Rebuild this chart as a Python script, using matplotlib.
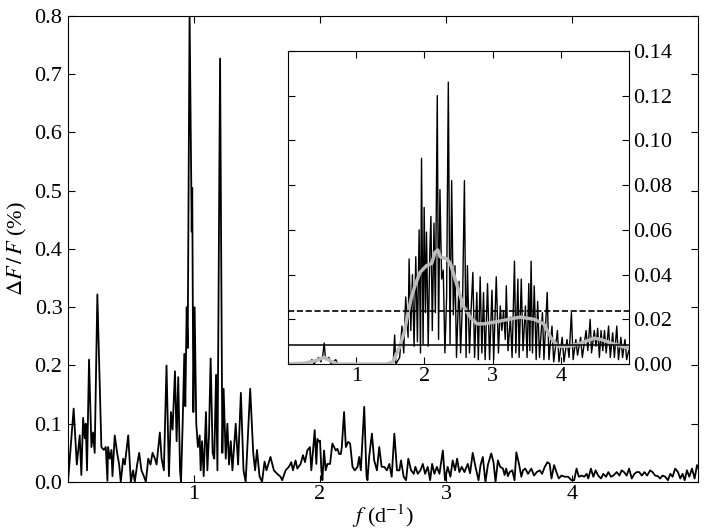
import numpy as np
import matplotlib
matplotlib.use("Agg")
import matplotlib.pyplot as plt

plt.rcParams['font.family'] = ['Liberation Serif', 'DejaVu Serif']
plt.rcParams['mathtext.fontset'] = 'stix'

# amplitude spectrum of the light curve (f in 1/d, amplitude in %)
main_f = [0.000, 0.045, 0.070, 0.093, 0.106, 0.120, 0.133, 0.141, 0.151, 0.167,
          0.186, 0.199, 0.212, 0.233, 0.265, 0.284, 0.300, 0.313, 0.318, 0.332,
          0.345, 0.353, 0.371, 0.390, 0.406, 0.419, 0.438, 0.451, 0.478, 0.499,
          0.517, 0.530, 0.549, 0.565, 0.583, 0.602, 0.618, 0.637, 0.655, 0.671,
          0.690, 0.703, 0.729, 0.743, 0.761, 0.782, 0.801, 0.817, 0.830, 0.849,
          0.862, 0.875, 0.889, 0.897, 0.910, 0.923, 0.931, 0.942, 0.950, 0.965,
          0.982, 0.986, 0.995, 1.005, 1.018, 1.031, 1.045, 1.053, 1.064, 1.077,
          1.095, 1.106, 1.119, 1.132, 1.148, 1.161, 1.175, 1.186, 1.207, 1.225,
          1.235, 1.252, 1.265, 1.278, 1.292, 1.305, 1.331, 1.350, 1.372, 1.393,
          1.410, 1.446, 1.470, 1.485, 1.500, 1.520, 1.540, 1.560, 1.575,
          1.607, 1.634, 1.660, 1.687, 1.700, 1.727, 1.753, 1.772, 1.785, 1.806,
          1.820, 1.846, 1.865, 1.881, 1.899, 1.920, 1.931, 1.944, 1.958, 1.971,
          1.979, 1.992, 2.000, 2.011, 2.019, 2.032, 2.045, 2.059, 2.080, 2.098,
          2.112, 2.125, 2.138, 2.152, 2.165, 2.173, 2.191, 2.205, 2.223, 2.239,
          2.258, 2.276, 2.298, 2.311, 2.324, 2.351, 2.369, 2.377, 2.390, 2.412,
          2.430, 2.452, 2.470, 2.489, 2.510, 2.531, 2.550, 2.569, 2.590, 2.611,
          2.630, 2.643, 2.664, 2.683, 2.701, 2.723, 2.744, 2.757, 2.776, 2.797,
          2.816, 2.834, 2.855, 2.874, 2.890, 2.908, 2.927, 2.948, 2.975, 2.992,
          3.013, 3.035, 3.053, 3.072, 3.088, 3.106, 3.125, 3.146, 3.173, 3.191,
          3.212, 3.234, 3.258, 3.274, 3.292, 3.313, 3.332, 3.359, 3.377, 3.393,
          3.412, 3.430, 3.452, 3.465, 3.478, 3.491, 3.505, 3.526, 3.544, 3.558,
          3.579, 3.598, 3.611, 3.629, 3.651, 3.677, 3.699, 3.720, 3.744, 3.762,
          3.784, 3.805, 3.823, 3.837, 3.858, 3.876, 3.895, 3.916, 3.943, 3.969,
          3.996, 4.017, 4.036, 4.054, 4.076, 4.097, 4.116, 4.129, 4.150, 4.169,
          4.187, 4.208, 4.230, 4.248, 4.270, 4.288, 4.309, 4.328, 4.355, 4.376,
          4.394, 4.413, 4.434, 4.453, 4.474, 4.495, 4.514, 4.533, 4.554, 4.575,
          4.596, 4.620, 4.639, 4.660, 4.681, 4.700, 4.718, 4.740, 4.761, 4.780,
          4.798, 4.819, 4.841, 4.859, 4.878, 4.894, 4.912, 4.931, 4.952, 4.973,
          4.992, 5.010]
main_amp = [0.000, 0.126, 0.030, 0.080, 0.012, 0.110, 0.075, 0.100, 0.020, 0.210,
            0.060, 0.085, 0.050, 0.322, 0.060, 0.055, 0.060, 0.002, 0.060, 0.040,
            0.055, 0.010, 0.080, 0.050, 0.030, 0.000, 0.040, 0.030, 0.080, 0.000,
            0.020, 0.000, 0.030, 0.050, 0.020, 0.010, 0.000, 0.040, 0.030, 0.050,
            0.040, 0.030, 0.085, 0.040, 0.020, 0.200, 0.010, 0.120, 0.090, 0.190,
            0.070, 0.180, 0.020, 0.000, 0.100, 0.220, 0.130, 0.300, 0.230, 0.805,
            0.430, 0.505, 0.120, 0.300, 0.100, 0.060, 0.080, 0.020, 0.070, 0.010,
            0.120, 0.020, 0.080, 0.212, 0.050, 0.040, 0.184, 0.020, 0.727, 0.050,
            0.160, 0.040, 0.100, 0.030, 0.070, 0.020, 0.100, 0.030, 0.153, 0.020,
            0.000, 0.160, 0.050, 0.020, 0.055, 0.010, 0.000, 0.035, 0.020,
            0.043, 0.020, 0.014, 0.009, 0.003, 0.020, 0.026, 0.034, 0.020, 0.037,
            0.023, 0.031, 0.046, 0.034, 0.054, 0.060, 0.020, 0.052, 0.089, 0.031,
            0.074, 0.069, 0.071, 0.020, 0.003, 0.054, 0.020, 0.031, 0.031, 0.066,
            0.060, 0.054, 0.057, 0.048, 0.048, 0.060, 0.120, 0.060, 0.069, 0.066,
            0.026, 0.020, 0.026, 0.043, 0.020, 0.129, 0.010, 0.003, 0.043, 0.083,
            0.037, 0.020, 0.060, 0.026, 0.026, 0.020, 0.031, 0.009, 0.083, 0.020,
            0.020, 0.037, 0.009, 0.003, 0.040, 0.020, 0.014, 0.026, 0.014, 0.020,
            0.031, 0.014, 0.026, 0.003, 0.031, 0.014, 0.026, 0.014, 0.054, 0.003,
            0.026, 0.009, 0.037, 0.020, 0.040, 0.017, 0.026, 0.017, 0.031, 0.015,
            0.050, 0.026, 0.003, 0.029, 0.043, 0.000, 0.029, 0.049, 0.034, 0.000,
            0.037, 0.026, 0.023, 0.012, 0.023, 0.010, 0.017, 0.020, 0.003, 0.051,
            0.031, 0.009, 0.020, 0.023, 0.014, 0.023, 0.011, 0.017, 0.020, 0.014,
            0.026, 0.034, 0.031, 0.006, 0.029, 0.017, 0.006, 0.011, 0.009, 0.009,
            0.003, 0.003, 0.023, 0.009, 0.011, 0.009, 0.014, 0.006, 0.023, 0.009,
            0.020, 0.011, 0.006, 0.014, 0.009, 0.017, 0.009, 0.011, 0.017, 0.011,
            0.020, 0.017, 0.011, 0.023, 0.006, 0.014, 0.017, 0.017, 0.011, 0.017,
            0.011, 0.020, 0.017, 0.011, 0.010, 0.006, 0.011, 0.009, 0.003, 0.014,
            0.009, 0.023, 0.017, 0.006, 0.014, 0.003, 0.020, 0.009, 0.023, 0.006,
            0.029, 0.020]

# residual spectrum (inset)
inset_f = [0.00, 0.30, 0.35, 0.38, 0.45, 0.48, 0.51, 0.53, 0.55, 0.60,
           0.63, 0.70, 0.73, 1.50, 1.545, 1.563, 1.580, 1.637, 1.670, 1.696,
           1.725, 1.760, 1.775, 1.800, 1.824, 1.848, 1.873, 1.897, 1.922, 1.942,
           1.957, 1.980, 1.996, 2.015, 2.030, 2.055, 2.080, 2.095, 2.115, 2.140,
           2.160, 2.188, 2.207, 2.227, 2.252, 2.276, 2.300, 2.325, 2.350, 2.375,
           2.399, 2.424, 2.448, 2.470, 2.507, 2.530, 2.560, 2.586, 2.610, 2.630,
           2.660, 2.685, 2.710, 2.735, 2.768, 2.790, 2.817, 2.842, 2.866, 2.890,
           2.925, 2.955, 2.990, 3.015, 3.053, 3.085, 3.112, 3.135, 3.160, 3.185,
           3.200, 3.225, 3.260, 3.285, 3.320, 3.340, 3.370, 3.388, 3.420, 3.445,
           3.480, 3.505, 3.530, 3.545, 3.564, 3.584, 3.610, 3.638, 3.660, 3.687,
           3.730, 3.752, 3.800, 3.825, 3.870, 3.895, 3.950, 3.972, 4.020, 4.046,
           4.090, 4.120, 4.155, 4.180, 4.220, 4.245, 4.290, 4.315, 4.370, 4.395,
           4.430, 4.450, 4.490, 4.515, 4.540, 4.565, 4.590, 4.615, 4.640, 4.665,
           4.700, 4.725, 4.760, 4.785, 4.820, 4.845, 4.880, 4.905, 4.940, 4.965,
           4.995]
inset_amp = [0.000, 0.000, 0.002, 0.000, 0.003, 0.001, 0.004, 0.0094, 0.002, 0.003,
             0.000, 0.002, 0.000, 0.000, 0.002, 0.013, 0.000, 0.003, 0.017, 0.005,
             0.030, 0.012, 0.047, 0.015, 0.040, 0.008, 0.048, 0.010, 0.060, 0.005,
             0.092, 0.009, 0.070, 0.023, 0.059, 0.008, 0.052, 0.066, 0.015, 0.063,
             0.023, 0.120, 0.011, 0.078, 0.038, 0.042, 0.005, 0.030, 0.126, 0.009,
             0.082, 0.022, 0.044, 0.003, 0.037, 0.005, 0.030, 0.082, 0.003, 0.044,
             0.005, 0.025, 0.041, 0.003, 0.032, 0.002, 0.039, 0.005, 0.032, 0.002,
             0.036, 0.002, 0.033, 0.002, 0.039, 0.005, 0.026, 0.015, 0.024, 0.011,
             0.035, 0.006, 0.021, 0.003, 0.046, 0.005, 0.038, 0.003, 0.038, 0.006,
             0.026, 0.003, 0.036, 0.006, 0.046, 0.005, 0.035, 0.002, 0.028, 0.003,
             0.023, 0.002, 0.032, 0.002, 0.017, 0.001, 0.015, 0.001, 0.012, 0.001,
             0.011, 0.003, 0.023, 0.002, 0.011, 0.004, 0.012, 0.003, 0.015, 0.006,
             0.020, 0.005, 0.015, 0.008, 0.016, 0.003, 0.015, 0.006, 0.015, 0.005,
             0.017, 0.003, 0.014, 0.003, 0.017, 0.002, 0.012, 0.003, 0.011, 0.002,
             0.006]

# smoothed residual spectrum (grey curve)
smooth_f = [0.00, 0.26, 0.40, 0.53, 0.65, 0.73, 1.44, 1.54, 1.64, 1.71,
            1.76, 1.81, 1.86, 1.935, 2.03, 2.107, 2.156, 2.196, 2.23, 2.33,
            2.38, 2.48, 2.57, 2.67, 2.77, 2.87, 3.07, 3.31, 3.41, 3.61,
            3.75, 3.85, 3.95, 4.10, 4.20, 4.35, 4.49, 4.59, 4.74, 4.89, 5.01]
smooth_amp = [0.000, 0.0005, 0.0015, 0.003, 0.001, 0.000, 0.000, 0.001, 0.008, 0.015,
              0.023, 0.030, 0.035, 0.041, 0.044, 0.045, 0.050, 0.051, 0.048, 0.047,
              0.045, 0.035, 0.026, 0.021, 0.018, 0.018, 0.019, 0.0205, 0.021, 0.020,
              0.018, 0.012, 0.008, 0.008, 0.0085, 0.010, 0.0116, 0.011, 0.0094, 0.008, 0.007]

noise_level = 0.0086
threshold_level = 0.0237

fig = plt.figure(figsize=(7.06, 5.30), dpi=100)
ax = fig.add_axes([0.0963, 0.0906, 0.8924, 0.8792])
ax.plot(main_f, main_amp, color='black', lw=1.3)
ax.set_xlim(0, 5)
ax.set_ylim(0, 0.8)
ax.set_xticks([1, 2, 3, 4])
ax.set_yticks(np.arange(0, 0.81, 0.1))
ax.set_yticklabels(['%.1f' % v for v in np.arange(0, 0.81, 0.1)])
ax.tick_params(direction='in', top=True, right=True, labelsize=16, length=5)
ax.tick_params(axis='x', pad=2)
ax.tick_params(axis='y', pad=4)
ax.set_xlabel(r'$f$ (d$^{-1}$)', fontsize=16, labelpad=-1)
ax.set_ylabel(r'$\Delta F\,/\,F$ (%)', fontsize=16, labelpad=4)

axi = fig.add_axes([0.408, 0.313, 0.483, 0.591])
axi.plot(inset_f, inset_amp, color='black', lw=1.0)
axi.plot(smooth_f, smooth_amp, color='#bbbbbb', lw=2.5)
axi.axhline(noise_level, color='black', lw=1.1)
axi.axhline(threshold_level, color='black', lw=1.2, ls='--')
axi.set_xlim(0, 5)
axi.set_ylim(0, 0.14)
axi.set_xticks([1, 2, 3, 4])
axi.set_yticks(np.arange(0, 0.141, 0.02))
axi.set_yticklabels(['%.2f' % v for v in np.arange(0, 0.141, 0.02)])
axi.tick_params(direction='in', top=True, right=True, left=True,
                labelleft=False, labelright=True, labelsize=16, length=5)
axi.tick_params(axis='x', pad=2)
axi.tick_params(axis='y', pad=3)

fig.savefig('out.png', dpi=100)
